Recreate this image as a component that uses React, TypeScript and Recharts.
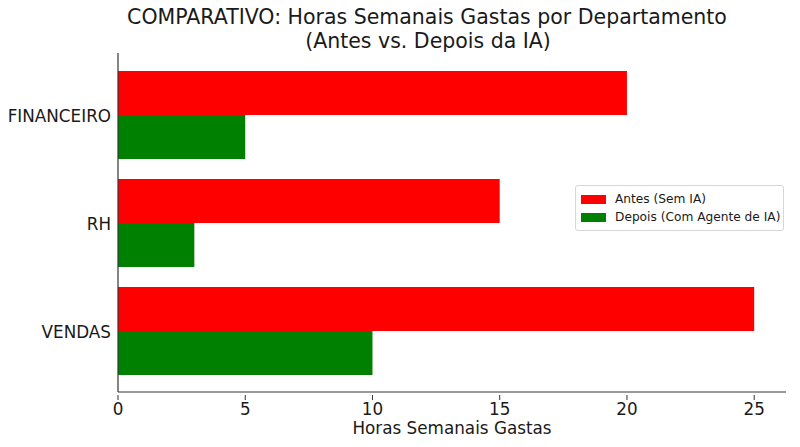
import { BarChart, Bar, XAxis, YAxis, Legend } from 'recharts';

const departments = ['FINANCEIRO', 'RH', 'VENDAS'];
const hoursBefore = [20, 15, 25];
const hoursAfter = [5, 3, 10];
const xTicks = [0, 5, 10, 15, 20, 25];

const chartData = departments.map((dept, i) => ({
  dept,
  antes: hoursBefore[i],
  depois: hoursAfter[i],
}));

const FONT = '"DejaVu Sans", sans-serif';
const INK = '#1a1a1a';

function XTick(props: any) {
  const { x, y, payload } = props;
  return (
    <g>
      <line x1={x} x2={x} y1={y} y2={y - 5} stroke="#333" strokeWidth={1} />
      <text x={x} y={y + 15} textAnchor="middle" fontSize={16.8} fill={INK} fontFamily={FONT}>
        {payload.value}
      </text>
    </g>
  );
}

function YTick(props: any) {
  const { x, y, payload } = props;
  return (
    <text x={x} y={y + 7} textAnchor="end" fontSize={16.8} fill={INK} fontFamily={FONT}>
      {payload.value}
    </text>
  );
}

function LegendBox() {
  const items = [
    { label: 'Antes (Sem IA)', color: '#ff0000' },
    { label: 'Depois (Com Agente de IA)', color: '#008000' },
  ];
  return (
    <div
      style={{
        border: '1px solid #d6d6d6',
        borderRadius: 3,
        background: '#fff',
        padding: '4px 6px 4px 5px',
        fontFamily: FONT,
        fontSize: 12.2,
        color: INK,
        width: 209,
        boxSizing: 'border-box',
        textAlign: 'left',
      }}
    >
      {items.map((it) => (
        <div key={it.label} style={{ display: 'flex', alignItems: 'center', height: 18, whiteSpace: 'nowrap' }}>
          <span style={{ display: 'inline-block', flexShrink: 0, width: 25, height: 9, background: it.color, marginRight: 9 }} />
          {it.label}
        </div>
      ))}
    </div>
  );
}

export default function App() {
  return (
    <div style={{ position: 'absolute', left: 0, top: 0, width: 800, height: 447, background: '#fff' }}>
      <BarChart
        width={800}
        height={447}
        data={chartData}
        layout="vertical"
        margin={{ top: 53, right: 14, left: 0, bottom: 0 }}
        barGap={0}
      >
        <text x={427} y={24} textAnchor="middle" fontSize={20.5} fill={INK} fontFamily={FONT}>
          COMPARATIVO: Horas Semanais Gastas por Departamento
        </text>
        <text x={428} y={48} textAnchor="middle" fontSize={20.5} fill={INK} fontFamily={FONT}>
          (Antes vs. Depois da IA)
        </text>
        <XAxis
          type="number"
          domain={[0, 26.25]}
          ticks={xTicks}
          allowDataOverflow
          height={55}
          tick={<XTick />}
          tickLine={false}
          axisLine={{ stroke: '#333', strokeWidth: 1.2 }}
          label={{ value: 'Horas Semanais Gastas', position: 'insideBottom', offset: 13, fontSize: 16.8, fill: INK, fontFamily: FONT }}
        />
        <YAxis
          type="category"
          dataKey="dept"
          width={118}
          padding={{ top: 8, bottom: 7 }}
          tick={<YTick />}
          tickLine={false}
          tickMargin={1}
          axisLine={{ stroke: '#333', strokeWidth: 1.2 }}
        />
        <Legend
          layout="horizontal"
          verticalAlign="middle"
          align="center"
          wrapperStyle={{ top: 185, left: 575, width: 210 }}
          content={<LegendBox />}
        />
        <Bar dataKey="antes" name="Antes (Sem IA)" fill="#ff0000" barSize={44} isAnimationActive={false} />
        <Bar dataKey="depois" name="Depois (Com Agente de IA)" fill="#008000" barSize={44} isAnimationActive={false} />
      </BarChart>
    </div>
  );
}
